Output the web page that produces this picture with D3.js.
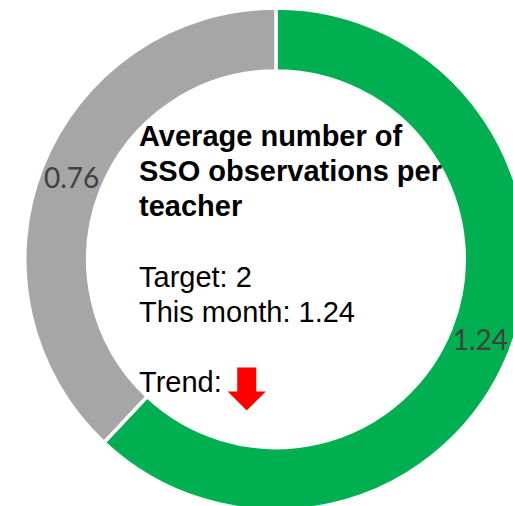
<!DOCTYPE html>
<html>
<head>
<meta charset="utf-8">
<script src="https://cdn.jsdelivr.net/npm/d3@7"></script>
<style>
  html, body { margin: 0; padding: 0; background: #fff; }
  svg { display: block; }
</style>
</head>
<body>
<svg id="chart" width="513" height="506"></svg>
<script>
// ---- data ----
const categories = ["This month", "Remaining to target"];
const values = [1.24, 0.76];
const colors = ["#00B050", "#A6A6A6"];
const titleLines = ["Average number of", "SSO observations per", "teacher"];
const infoLines = ["", "Target: 2", "This month: 1.24", "", "Trend:"];
const trendDirection = "down";

// ---- layout ----
const svg = d3.select("#chart");
const cx = 276, cy = 259.3;
const sepW = 3.5;
const outerR = 249.5 + sepW / 2;
const innerR = 190 - sepW / 2;

const pie = d3.pie().sort(null).value(d => d.value).startAngle(0).endAngle(2 * Math.PI);
const data = categories.map((c, i) => ({ name: c, value: values[i], color: colors[i] }));
const arcs = pie(data);

const arc = d3.arc().innerRadius(innerR).outerRadius(outerR);
const labelArc = d3.arc().innerRadius((innerR + outerR) / 2).outerRadius((innerR + outerR) / 2);

const g = svg.append("g").attr("transform", `translate(${cx},${cy})`);

g.selectAll("path.slice")
  .data(arcs)
  .join("path")
  .attr("class", "slice")
  .attr("d", arc)
  .attr("fill", d => d.data.color)
  .attr("stroke", "#fff")
  .attr("stroke-width", sepW)
  .attr("stroke-linejoin", "miter");

g.selectAll("text.val")
  .data(arcs)
  .join("text")
  .attr("class", "val")
  .attr("transform", d => `translate(${labelArc.centroid(d)})`)
  .attr("text-anchor", "middle")
  .attr("dy", "0.36em")
  .attr("font-family", "Lato, 'Open Sans', sans-serif")
  .attr("font-size", 28)
  .attr("fill", "#404040")
  .text(d => d.data.value.toFixed(2));

// ---- centre text ----
const textX = 139, firstBaseline = 146, lineH = 35.2;
const allLines = titleLines.map(t => ({ t, bold: true })).concat(infoLines.map(t => ({ t, bold: false })));

const txt = svg.append("g");
let trendNode = null, trendY = 0;
allLines.forEach((ln, i) => {
  if (!ln.t) return;
  const y = firstBaseline + i * lineH;
  const node = txt.append("text")
    .attr("x", textX)
    .attr("y", y)
    .attr("font-family", "'Liberation Sans', Arial, sans-serif")
    .attr("font-size", 29)
    .attr("font-weight", ln.bold ? "bold" : "normal")
    .attr("fill", "#000")
    .text(ln.t);
  if (ln.t.startsWith("Trend")) { trendNode = node.node(); trendY = y; }
});

// ---- trend arrow ----
if (trendNode) {
  const ax = textX + trendNode.getComputedTextLength() + 6; // left of arrow head
  const top = trendY - 25;
  const headW = 38, shaftW = 19, shaftH = 24, headH = 19;
  const mid = ax + headW / 2;
  const pts = trendDirection === "down"
    ? [[mid - shaftW / 2, top], [mid + shaftW / 2, top], [mid + shaftW / 2, top + shaftH],
       [ax + headW, top + shaftH], [mid, top + shaftH + headH], [ax, top + shaftH],
       [mid - shaftW / 2, top + shaftH]]
    : [];
  svg.append("path")
    .attr("d", d3.line()(pts) + "Z")
    .attr("fill", "#FF0000");
}
</script>
</body>
</html>
